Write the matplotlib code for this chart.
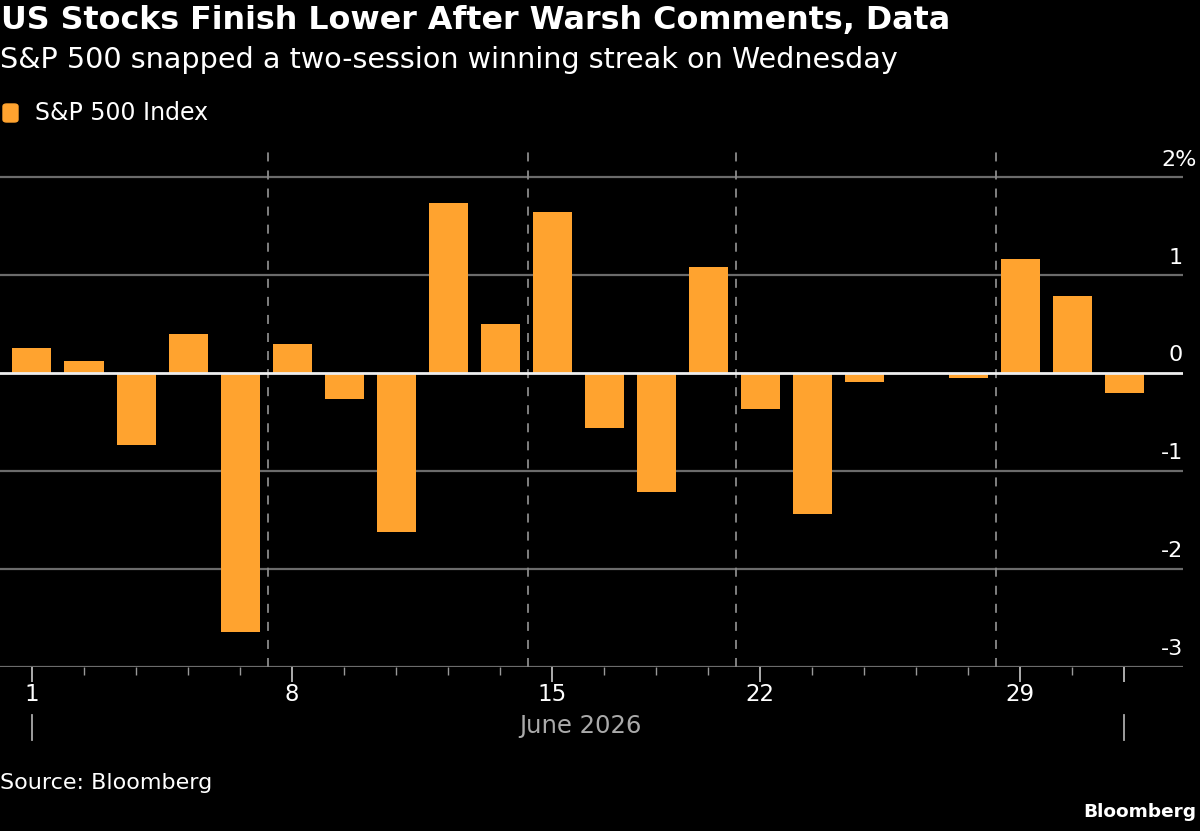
import matplotlib
matplotlib.use("Agg")
import matplotlib.pyplot as plt
import matplotlib.transforms as mtransforms
from matplotlib.patches import FancyBboxPatch

# ---- data ----
dates = ["2026-06-01", "2026-06-02", "2026-06-03", "2026-06-04", "2026-06-05",
         "2026-06-08", "2026-06-09", "2026-06-10", "2026-06-11", "2026-06-12",
         "2026-06-15", "2026-06-16", "2026-06-17", "2026-06-18",
         "2026-06-22", "2026-06-23", "2026-06-24", "2026-06-25", "2026-06-26",
         "2026-06-29", "2026-06-30", "2026-07-01"]
values = [0.26, 0.12, -0.73, 0.40, -2.64,
          0.30, -0.26, -1.62, 1.74, 0.50,
          1.65, -0.56, -1.21, 1.08,
          -0.37, -1.44, -0.09, -0.01, -0.05,
          1.17, 0.79, -0.20]
y_ticks = [2, 1, 0, -1, -2, -3]
y_tick_labels = ["2%", "1", "0", "-1", "-2", "-3"]
series_name = "S&P 500 Index"
title = "US Stocks Finish Lower After Warsh Comments, Data"
subtitle = "S&P 500 snapped a two-session winning streak on Wednesday"
month_label = "June 2026"
source = "Source: Bloomberg"

ORANGE = "#FFA32F"
BG = "#000000"
GRID = "#6b6b6b"
TXT = "#ffffff"
FONT = ["DejaVu Sans"]
plt.rcParams["font.family"] = FONT

W, H = 1200, 831
fig = plt.figure(figsize=(W / 100, H / 100), dpi=100, facecolor=BG)

ax_left, ax_right, ax_top, ax_bottom = 0, 1183, 145, 667
ax = fig.add_axes([ax_left / W, 1 - ax_bottom / H, (ax_right - ax_left) / W, (ax_bottom - ax_top) / H])
ax.set_facecolor(BG)

n = len(values)
xs = list(range(n))
ax.set_xlim(-0.615, 22.13)
ax.set_ylim(-3, 2.33)

# gridlines
for yv in y_ticks:
    if yv == 0:
        continue
    ax.axhline(yv, color=GRID, lw=1.6, zorder=1)

# week separators (between Friday and Monday)
days = [int(d[-2:]) for d in dates]
for i in range(1, n):
    if days[i] - days[i - 1] > 1 and dates[i][5:7] == dates[i - 1][5:7]:
        ax.axvline(i - 0.5 + 0.04, color="#8a8a8a", lw=1.3, ls=(0, (5, 5)), zorder=1)

ax.bar(xs, values, width=0.75, color=ORANGE, zorder=2)
ax.axhline(0, color="#eeeeee", lw=2, zorder=3)

for s in ax.spines.values():
    s.set_visible(False)

# y labels, inside the right side above the gridlines
YFS = 16
trans_y = mtransforms.blended_transform_factory(ax.transAxes, ax.transData)
for yv, lab in zip(y_ticks, y_tick_labels):
    xpos = 1.0 if not lab.endswith("%") else 1197 / 1183
    ax.text(xpos, yv + 0.12, lab, transform=trans_y, ha="right", va="baseline",
            color=TXT, fontsize=YFS)
ax.set_yticks([])

# x ticks
major_idx = [i for i in range(n) if days[i] in (1, 8, 15, 22, 29)]
major_labels = [str(days[i]) if dates[i][5:7] == "06" else "" for i in major_idx]
ax.set_xticks(major_idx)
ax.set_xticklabels(major_labels)
ax.set_xticks(xs, minor=True)
ax.tick_params(axis="x", which="major", length=11, width=1.3, color="#bbbbbb",
               labelcolor=TXT, labelsize=16.5, pad=0.5)
ax.tick_params(axis="x", which="minor", length=6, width=1.0, color="#999999")

# month row
trans_x = mtransforms.blended_transform_factory(ax.transData, fig.transFigure)
first_i = 0
last_i = n - 1
for i in (first_i, last_i):
    ax.plot([i, i], [1 - 715 / H, 1 - 740 / H], transform=trans_x, color="#aaaaaa",
            lw=1.3, clip_on=False)
ax.text((first_i + last_i) / 2 + 0.05, 1 - 726 / H, month_label, transform=trans_x,
        ha="center", va="center", color="#aaaaaa", fontsize=17.5)

# titles
fig.text(1 / W, 1 - 20 / H, title, color=TXT, fontsize=22.9, fontweight="bold",
         ha="left", va="center")
fig.text(0 / W, 1 - 60 / H, subtitle, color=TXT, fontsize=20.6, ha="left", va="center")

# legend
fig.patches.append(FancyBboxPatch((3 / W, 1 - 122 / H), 15 / W, 18 / H,
                                  boxstyle="round,pad=0.0,rounding_size=0.003",
                                  transform=fig.transFigure, color=ORANGE,
                                  figure=fig))
fig.text(35 / W, 1 - 113 / H, series_name, color=TXT, fontsize=17, ha="left", va="center")

fig.text(0 / W, 1 - 783 / H, source, color=TXT, fontsize=16, ha="left", va="center")
fig.text(1196 / W, 1 - 812 / H, "Bloomberg", color=TXT, fontsize=13.3,
         fontweight="bold", ha="right", va="center")

fig.savefig("out.png", dpi=100, facecolor=BG)
